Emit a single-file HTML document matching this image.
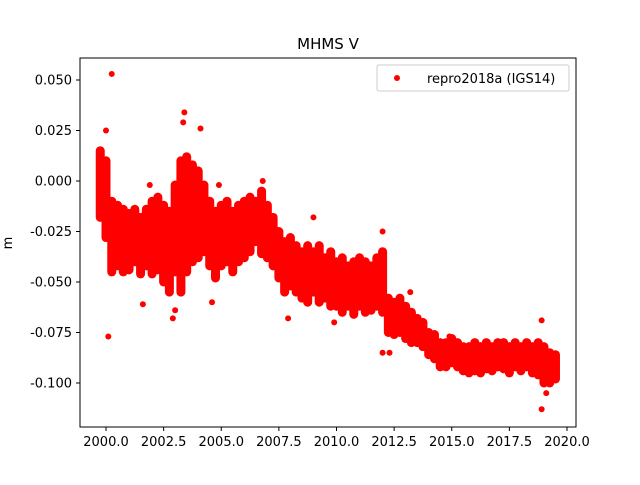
<!DOCTYPE html>
<html><head><meta charset="utf-8"><style>
body{margin:0;background:#fff}
svg text{font-family:"DejaVu Sans","Liberation Sans",sans-serif;font-size:13px;fill:#000}
</style></head><body>
<svg id="chart" width="640" height="480">
<rect width="640" height="480" fill="#fff"/>
<text x="328" y="49" text-anchor="middle" style="font-size:15px">MHMS V</text>
<text transform="translate(12,243) rotate(-90)" text-anchor="middle">m</text>
<g id="plot"></g>
<g id="axes"></g>
<rect x="80" y="58" width="496" height="369" fill="none" stroke="#000" stroke-width="1"/>
<g>
<rect x="377" y="65" width="192" height="26" rx="2" fill="#fff" stroke="#ccc"/>
<circle cx="397" cy="78" r="3" fill="#f00"/>
<text x="427" y="83">repro2018a (IGS14)</text>
</g>
</svg>
<script>
const times=[1999.75,2000.0,2000.25,2000.5,2000.75,2001.0,2001.25,2001.5,2001.75,2002.0,2002.25,2002.5,2002.75,2003.0,2003.25,2003.5,2003.75,2004.0,2004.25,2004.5,2004.75,2005.0,2005.25,2005.5,2005.75,2006.0,2006.25,2006.5,2006.75,2007.0,2007.25,2007.5,2007.75,2008.0,2008.25,2008.5,2008.75,2009.0,2009.25,2009.5,2009.75,2010.0,2010.25,2010.5,2010.75,2011.0,2011.25,2011.5,2011.75,2012.0,2012.25,2012.5,2012.75,2013.0,2013.25,2013.5,2013.75,2014.0,2014.25,2014.5,2014.75,2015.0,2015.25,2015.5,2015.75,2016.0,2016.25,2016.5,2016.75,2017.0,2017.25,2017.5,2017.75,2018.0,2018.25,2018.5,2018.75,2019.0,2019.25,2019.5];
const highs=[0.015,0.010,-0.010,-0.012,-0.014,-0.016,-0.014,-0.018,-0.014,-0.010,-0.008,-0.012,-0.015,-0.002,0.010,0.012,0.008,0.005,-0.002,-0.010,-0.015,-0.012,-0.010,-0.015,-0.012,-0.010,-0.008,-0.010,-0.005,-0.012,-0.018,-0.025,-0.030,-0.028,-0.032,-0.035,-0.032,-0.035,-0.032,-0.038,-0.035,-0.040,-0.038,-0.042,-0.040,-0.038,-0.040,-0.042,-0.038,-0.035,-0.058,-0.060,-0.058,-0.062,-0.065,-0.068,-0.070,-0.075,-0.076,-0.080,-0.080,-0.078,-0.080,-0.082,-0.082,-0.080,-0.082,-0.080,-0.082,-0.080,-0.080,-0.082,-0.080,-0.082,-0.080,-0.082,-0.080,-0.082,-0.085,-0.086];
const lows=[-0.018,-0.028,-0.045,-0.042,-0.045,-0.044,-0.040,-0.046,-0.042,-0.046,-0.044,-0.050,-0.055,-0.045,-0.055,-0.045,-0.040,-0.038,-0.035,-0.042,-0.048,-0.042,-0.040,-0.045,-0.040,-0.038,-0.035,-0.030,-0.036,-0.038,-0.042,-0.048,-0.055,-0.052,-0.055,-0.058,-0.060,-0.055,-0.060,-0.058,-0.062,-0.062,-0.065,-0.062,-0.066,-0.062,-0.065,-0.064,-0.062,-0.065,-0.075,-0.076,-0.075,-0.078,-0.080,-0.080,-0.082,-0.086,-0.088,-0.092,-0.092,-0.090,-0.092,-0.094,-0.095,-0.094,-0.095,-0.093,-0.094,-0.092,-0.093,-0.095,-0.092,-0.094,-0.092,-0.095,-0.096,-0.100,-0.100,-0.098];
const outT=[2000.25,2000.1,2000.0,2003.4,2003.35,2004.1,2001.6,2002.9,2003.0,2004.6,2007.9,2009.9,2012.0,2012.3,2015.0,2018.9,2018.9,2019.1,2006.8,2001.9,2004.9,2009.0,2012.0,2013.2,2014.9];
const outV=[0.053,-0.077,0.025,0.034,0.029,0.026,-0.061,-0.068,-0.064,-0.060,-0.068,-0.070,-0.085,-0.085,-0.090,-0.113,-0.069,-0.105,0.000,-0.002,-0.002,-0.018,-0.025,-0.055,-0.077];
const xTicks=[2000.0,2002.5,2005.0,2007.5,2010.0,2012.5,2015.0,2017.5,2020.0];
const yTicks=[0.050,0.025,0.000,-0.025,-0.050,-0.075,-0.100];
const NS='http://www.w3.org/2000/svg';
const xs=t=>106+(t-2000)*23.05;
const ys=v=>181-v*2020;
const plot=document.getElementById('plot'),axes=document.getElementById('axes');
times.forEach((t,i)=>{
 const l=document.createElementNS(NS,'line');
 l.setAttribute('x1',xs(t));l.setAttribute('x2',xs(t));
 l.setAttribute('y1',ys(highs[i]));l.setAttribute('y2',ys(lows[i]));
 l.setAttribute('stroke','#f00');l.setAttribute('stroke-width','9');l.setAttribute('stroke-linecap','round');
 
 
 plot.appendChild(l);
});
outT.forEach((t,i)=>{
 const c=document.createElementNS(NS,'circle');
 c.setAttribute('cx',xs(t));c.setAttribute('cy',ys(outV[i]));c.setAttribute('r','3');c.setAttribute('fill','#f00');
 
 
 plot.appendChild(c);
});
xTicks.forEach(t=>{
 const x=xs(t);
 const l=document.createElementNS(NS,'line');
 l.setAttribute('x1',x);l.setAttribute('x2',x);l.setAttribute('y1',427);l.setAttribute('y2',431);l.setAttribute('stroke','#000');
 
 
 axes.appendChild(l);
 const tx=document.createElementNS(NS,'text');
 tx.setAttribute('x',x);tx.setAttribute('y',446);tx.setAttribute('text-anchor','middle');tx.textContent=t.toFixed(1);
 
 
 axes.appendChild(tx);
});
yTicks.forEach(v=>{
 const y=ys(v);
 const l=document.createElementNS(NS,'line');
 l.setAttribute('x1',76);l.setAttribute('x2',80);l.setAttribute('y1',y);l.setAttribute('y2',y);l.setAttribute('stroke','#000');
 
 
 axes.appendChild(l);
 const tx=document.createElementNS(NS,'text');
 tx.setAttribute('x',72);tx.setAttribute('y',y+4.5);tx.setAttribute('text-anchor','end');tx.textContent=v.toFixed(3);
 
 
 axes.appendChild(tx);
});
</script>
</body></html>
